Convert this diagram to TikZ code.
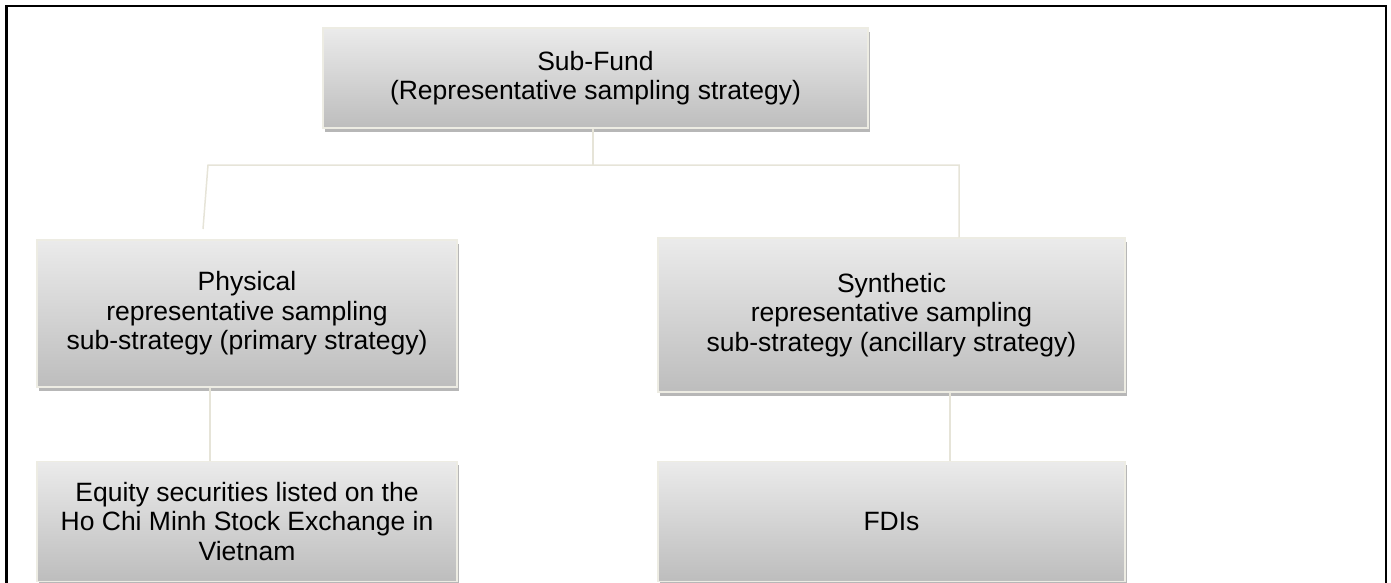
\documentclass[tikz,border=0pt]{standalone}
\usepackage{fontspec}
\setmainfont{Liberation Sans}
\usetikzlibrary{positioning,shadows}
\definecolor{boxtop}{HTML}{EBEBEB}
\definecolor{boxbot}{HTML}{BDBDBD}
\definecolor{rim}{HTML}{EDECE3}
\definecolor{wire}{HTML}{E6E4D8}
\begin{document}
\begin{tikzpicture}[x=1pt, y=-1pt,
  box/.style={draw=rim, line width=1.3pt, top color=boxtop, bottom color=boxbot,
    align=center, inner sep=0pt, font=\fontsize{26.5}{29.5}\selectfont,
    drop shadow={shadow xshift=2pt, shadow yshift=-3.5pt, opacity=0.4, fill=black!70}},
  link/.style={draw=wire, line width=1.5pt}]
  \useasboundingbox (0,0) rectangle (1391,582);
  \clip (0,0) rectangle (1391,582);
  \draw[line width=2.8pt] (6.5,6) rectangle (1386,600);
  % tree connectors
  \coordinate (hub) at (593,165);
  \coordinate (lefttop) at (208,165);
  \coordinate (righttop) at (959,165);
  \coordinate (leftfoot) at (203,229);
  % boxes
  \node[box, minimum width=545pt, minimum height=100pt] (fund) at (595.5,78)
    {Sub-Fund\\(Representative sampling strategy)};
  \node[box, minimum width=420pt, minimum height=147pt] (phys) at (247,313.5)
    {Physical\\representative sampling\\sub-strategy (primary strategy)};
  \node[box, minimum width=467pt, minimum height=154pt] (synth) at (891.5,315)
    {Synthetic\\representative sampling\\sub-strategy (ancillary strategy)};
  \node[box, minimum width=420pt, minimum height=120pt, below=73pt of phys] (equity)
    {Equity securities listed on the\\Ho Chi Minh Stock Exchange in\\Vietnam};
  \node[box, minimum width=467pt, minimum height=120pt, below=68pt of synth] (fdi)
    {FDIs};
  \draw[link] (fund.south -| hub) -- (hub);
  \draw[link] (leftfoot) -- (lefttop) -- (righttop) -- (righttop |- synth.north);
  \draw[link] ([xshift=-37pt]phys.south) -- ([xshift=-37pt]equity.north);
  \draw[link] ([xshift=58.5pt]synth.south) -- ([xshift=58.5pt]fdi.north);
\end{tikzpicture}
\end{document}
